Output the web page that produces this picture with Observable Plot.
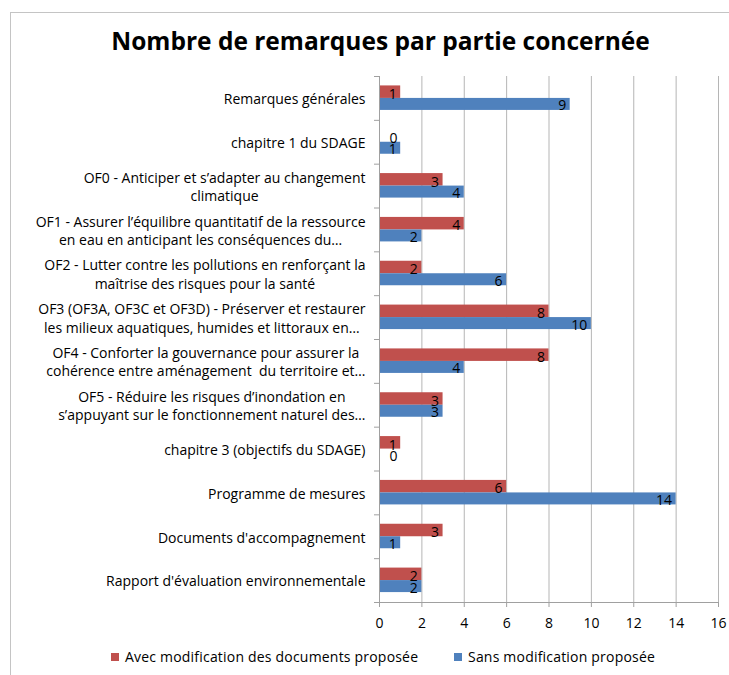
<!DOCTYPE html>
<html><head><meta charset="utf-8">
<script src="https://cdn.jsdelivr.net/npm/d3@7"></script>
<script src="https://cdn.jsdelivr.net/npm/@observablehq/plot@0.6"></script>
<style>
body{margin:0;background:#fff;font-family:"Open Sans",sans-serif;color:#000;}
#wrap{position:relative;width:729px;height:675px;overflow:hidden;}
#frame{position:absolute;left:10px;top:12px;width:900px;height:900px;border-top:1px solid #c4c4c4;border-left:1px solid #c4c4c4;}
#title{position:absolute;left:16px;width:729px;top:24px;text-align:center;font-weight:bold;font-size:24.5px;line-height:34px;}
#chart{position:absolute;left:0;top:0;}
.leg{position:absolute;top:647px;font-size:14px;letter-spacing:0.2px;line-height:20px;white-space:nowrap;}
.sw{display:inline-block;width:8px;height:8px;margin-right:6px;vertical-align:1px;}
</style>
</head><body>
<div id="wrap">
  <div id="frame"></div>
  <div id="title">Nombre de remarques par partie concernée</div>
  <div id="chart"></div>
  <div id="legend"></div>
</div>
<script>
const categories = [
  "Remarques générales",
  "chapitre 1 du SDAGE",
  "OF0 - Anticiper et s’adapter au changement\nclimatique",
  "OF1 - Assurer l’équilibre quantitatif de la ressource\nen eau en anticipant les conséquences du…",
  "OF2 - Lutter contre les pollutions en renforçant la\nmaîtrise des risques pour la santé",
  "OF3 (OF3A, OF3C et OF3D) - Préserver et restaurer\nles milieux aquatiques, humides et littoraux en…",
  "OF4 - Conforter la gouvernance pour assurer la\ncohérence entre aménagement  du territoire et…",
  "OF5 - Réduire les risques d’inondation en\ns’appuyant sur le fonctionnement naturel des…",
  "chapitre 3 (objectifs du SDAGE)",
  "Programme de mesures",
  "Documents d'accompagnement",
  "Rapport d'évaluation environnementale"
];
const avecModification = [1, 0, 3, 4, 2, 8, 8, 3, 1, 6, 3, 2];
const sansModification = [9, 1, 4, 2, 6, 10, 4, 3, 0, 14, 1, 2];
const seriesNames = ["Avec modification des documents proposée", "Sans modification proposée"];
const seriesColors = ["#c0504d", "#4f81bd"];
const xTicks = [0, 2, 4, 6, 8, 10, 12, 14, 16];

const avecRows = categories.map((c, i) => ({cat: c, series: seriesNames[0], value: avecModification[i]}));
const sansRows = categories.map((c, i) => ({cat: c, series: seriesNames[1], value: sansModification[i]}));

const H = 640, MT = 76, MB = 38;
const band = (H - MT - MB) / categories.length;
const barH = 12;
const grid = "#b5b5b5", axisC = "#a0a0a0";

const chart = Plot.plot({
  width: 729, height: H,
  marginTop: MT, marginBottom: MB, marginLeft: 379, marginRight: 11,
  style: {fontFamily: "Open Sans", fontSize: "14px", background: "transparent", overflow: "visible"},
  x: {domain: [0, 16], label: null},
  y: {domain: categories, padding: 0, round: false, label: null},
  color: {domain: seriesNames, range: seriesColors},
  marks: [
    Plot.gridX(xTicks, {stroke: grid, strokeOpacity: 1}),
    Plot.barX(avecRows, {x: "value", y: "cat", fill: "series", insetTop: band / 2 - barH - 0.5, insetBottom: band / 2}),
    Plot.barX(sansRows, {x: "value", y: "cat", fill: "series", insetTop: band / 2, insetBottom: band / 2 - barH}),
    Plot.frame({anchor: "bottom", stroke: axisC}),
    Plot.frame({anchor: "left", stroke: axisC}),
    Plot.axisX({ticks: xTicks, tickSize: 5, tickPadding: 11, stroke: axisC, fill: "#000", fontSize: 14}),
    Plot.axisY({ticks: categories, tickSize: 5, fill: "none", stroke: axisC, dy: -band / 2}),
    Plot.axisY({ticks: [categories[categories.length - 1]], tickSize: 5, fill: "none", stroke: axisC, dy: band / 2}),
    Plot.axisY({tickSize: 0, tickPadding: 14, fill: "#000", lineHeight: 1.3, textAnchor: "end", fontSize: 14, letterSpacing: 0.15}),
    Plot.text(avecRows.filter(d => d.value > 0), {x: "value", y: "cat", text: d => String(d.value), textAnchor: "end", dx: -4, dy: -barH / 2 + 2, fill: "#000", fontSize: 14}),
    Plot.text(sansRows.filter(d => d.value > 0), {x: "value", y: "cat", text: d => String(d.value), textAnchor: "end", dx: -4, dy: barH / 2 + 1.5, fill: "#000", fontSize: 14}),
    Plot.text(avecRows.filter(d => d.value === 0), {x: "value", y: "cat", text: d => String(d.value), textAnchor: "start", dx: 10, dy: -barH / 2 + 2, fill: "#000", fontSize: 14}),
    Plot.text(sansRows.filter(d => d.value === 0), {x: "value", y: "cat", text: d => String(d.value), textAnchor: "start", dx: 10, dy: barH / 2 + 1.5, fill: "#000", fontSize: 14})
  ]
});
document.getElementById("chart").append(chart);

// centre multi-line y labels within their own block (right edge kept)
const yLab = chart.querySelector('g[aria-label="y-axis tick label"]');
if (yLab) {
  yLab.querySelectorAll("text").forEach(t => {
    const sp = t.querySelectorAll("tspan");
    if (sp.length > 1) {
      let w = 0;
      sp.forEach(s => { w = Math.max(w, s.getComputedTextLength()); });
      t.setAttribute("text-anchor", "middle");
      sp.forEach(s => s.setAttribute("x", -w / 2));
    }
  });
}

// legend
const legendPos = [111, 454];
const leg = document.getElementById("legend");
seriesNames.forEach((n, i) => {
  const d = document.createElement("div");
  d.className = "leg";
  d.style.left = legendPos[i] + "px";
  const s = document.createElement("span");
  s.className = "sw";
  s.style.background = seriesColors[i];
  d.append(s, document.createTextNode(n));
  leg.append(d);
});
</script>
</body></html>
